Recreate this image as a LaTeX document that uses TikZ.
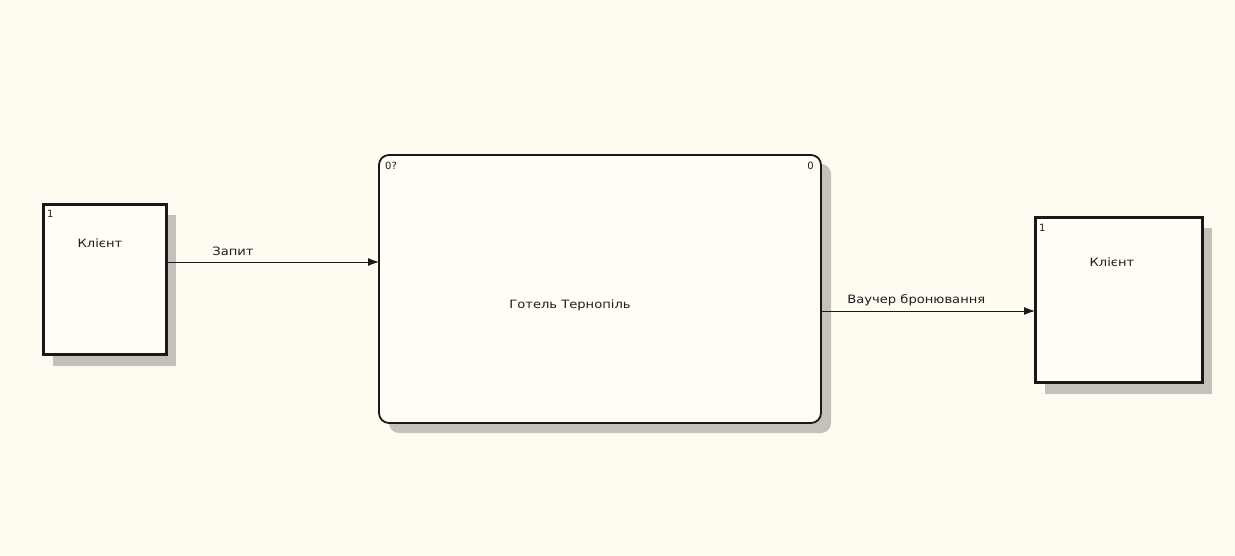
\documentclass[tikz,border=0pt]{standalone}
\usepackage{fontspec}
\setmainfont{DejaVu Sans}
\usetikzlibrary{arrows.meta}
\definecolor{bg}{RGB}{255,251,240}
\definecolor{boxfill}{RGB}{255,253,246}
\definecolor{shadowgray}{RGB}{196,193,186}
\definecolor{ink}{RGB}{25,25,25}
\definecolor{txt}{RGB}{30,30,30}
\tikzset{
  ebox/.style={draw=ink, fill=boxfill, line width=3pt, inner sep=0pt, outer sep=0pt, anchor=north west},
  pbox/.style={draw=ink, fill=boxfill, line width=1.8pt, rounded corners=10pt, inner sep=0pt, outer sep=0pt, anchor=north west},
  lbl/.style={font=\fontsize{11.5}{13}\selectfont, text=txt, inner sep=1pt, xscale=1.14},
  num/.style={font=\fontsize{10}{12}\selectfont, text=txt, inner sep=1pt},
  arr/.style={draw=ink, line width=0.9pt, -{Latex[length=11pt,width=8pt]}}
}
\begin{document}
\begin{tikzpicture}[x=1pt,y=-1pt]
\fill[bg] (0,0) rectangle (1235,556);
\useasboundingbox (0,0) rectangle (1235,556);
% shadows
\fill[shadowgray] (53,215) rectangle (176,366);
\fill[shadowgray, rounded corners=10pt] (389,164) rectangle (831,433);
\fill[shadowgray] (1045,228) rectangle (1212,394);
% boxes
\node[ebox, minimum width=123pt, minimum height=149pt] (c1) at (43,205) {};
\node[pbox, minimum width=442pt, minimum height=268pt] (main) at (379,155) {};
\node[ebox, minimum width=167pt, minimum height=164pt] (c2) at (1035,218) {};
% texts in boxes
\node[num, anchor=north west] (n1) at ([xshift=3pt,yshift=-4pt]c1.north west) {1};
\node[lbl] (t1) at (100,243) {Клієнт};
\node[num, anchor=north west] (n0q) at ([xshift=5pt,yshift=-6pt]main.north west) {0?};
\node[num, anchor=north east] (n0) at ([xshift=-6pt,yshift=-6pt]main.north east) {0};
\node[lbl] (tm) at (570,305) {Готель Тернопіль};
\node[num, anchor=north west] (n2) at ([xshift=3pt,yshift=-5pt]c2.north west) {1};
\node[lbl] (t2) at (1112,262) {Клієнт};
% connectors
\draw[arr] (c1.east |- 0,262) -- (main.west |- 0,262);
\draw[arr] (main.east |- 0,311) -- (c2.west |- 0,311);
\node[lbl, anchor=west] (l1) at (211,251) {Запит};
\node[lbl, anchor=west] (l2) at (846,300) {Ваучер бронювання};
\end{tikzpicture}
\end{document}
